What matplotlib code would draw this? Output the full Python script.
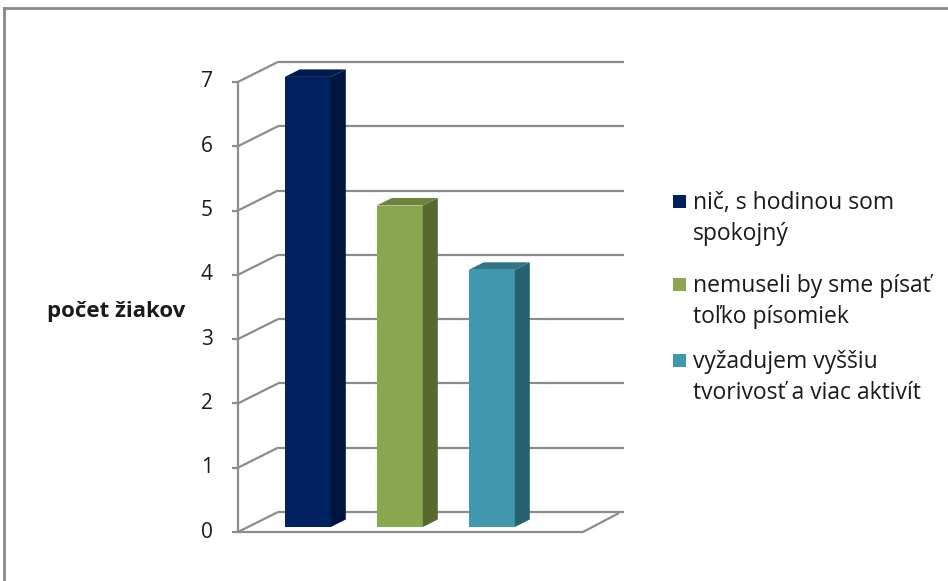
import matplotlib
matplotlib.use("Agg")
import matplotlib.pyplot as plt
from matplotlib.patches import Polygon, Rectangle
from matplotlib.lines import Line2D

plt.rcParams['font.family'] = ['Open Sans', 'DejaVu Sans']

# Data
series = ["nič, s hodinou som\nspokojný",
          "nemuseli by sme písať\ntoľko písomiek",
          "vyžadujem vyššiu\ntvorivosť a viac aktivít"]
values = [7, 5, 4]
y_ticks = [0, 1, 2, 3, 4, 5, 6, 7]
y_label = "počet žiakov"

front_colors = ["#002060", "#8aa64e", "#4297b0"]
side_colors = ["#00143c", "#58692f", "#27606f"]
top_colors = ["#001a4e", "#6c843c", "#2f7487"]

W, H = 948, 581
fig = plt.figure(figsize=(W / 100, H / 100), dpi=100)
ax = fig.add_axes([0, 0, 1, 1])

# scale: one category = 92 px, one unit of value = 64.3 px
PX_X, PX_Y = 92.0, 64.3
X0_PX, Y0_PX = 238.0, 532.0
X_LEFT = -0.65
ax.set_xlim(X_LEFT - X0_PX / PX_X, X_LEFT + (W - X0_PX) / PX_X)
ax.set_ylim(-(H - Y0_PX) / PX_Y, Y0_PX / PX_Y)
ax.axis("off")

# depth of the 3-D box (back wall offset)
DX, DY = 40 / PX_X, 20 / PX_Y
X_RIGHT_FRONT = X_LEFT + 345 / PX_X
X_RIGHT_BACK = X_LEFT + 386 / PX_X

grid_kw = dict(color="#8c8c8c", lw=1.6, solid_capstyle="butt", zorder=1)
ymax = max(y_ticks)

# back wall gridlines and the side-wall diagonals
for v in y_ticks:
    ax.add_line(Line2D([X_LEFT + DX, X_RIGHT_BACK], [v + DY, v + DY], **grid_kw))
    ax.add_line(Line2D([X_LEFT, X_LEFT + DX], [v, v + DY], **grid_kw))
    # tick marks
    ax.add_line(Line2D([X_LEFT - 6 / PX_X, X_LEFT], [v, v], **grid_kw))
    ax.text(X_LEFT - 31 / PX_X, v, str(v), ha="center", va="center",
            fontsize=15, color="#1a1a1a")

# front vertical axis
ax.add_line(Line2D([X_LEFT, X_LEFT], [0, ymax], **grid_kw))
# floor front edge and right edge
ax.add_line(Line2D([X_LEFT, X_RIGHT_FRONT], [0, 0], **grid_kw))
ax.add_line(Line2D([X_RIGHT_FRONT, X_RIGHT_FRONT + DX * 0.9], [0, DY * 0.95], **grid_kw))

# bars at partial depth
F0, F1 = 0.25, 0.625
bw = 0.5
for i, (v, fc, sc, tc) in enumerate(zip(values, front_colors, side_colors, top_colors)):
    xf = i - bw / 2 + F0 * DX
    yb = F0 * DY
    ddx, ddy = (F1 - F0) * DX, (F1 - F0) * DY
    ax.bar(xf, v, width=bw, bottom=yb, align="edge", color=fc,
           edgecolor="none", zorder=3)
    side = Polygon([(xf + bw, yb), (xf + bw + ddx, yb + ddy),
                    (xf + bw + ddx, yb + v + ddy), (xf + bw, yb + v)],
                   closed=True, facecolor=sc, edgecolor="none", zorder=3)
    top = Polygon([(xf, yb + v), (xf + bw, yb + v),
                   (xf + bw + ddx, yb + v + ddy), (xf + ddx, yb + v + ddy)],
                  closed=True, facecolor=tc, edgecolor="none", zorder=3)
    ax.add_patch(side)
    ax.add_patch(top)

# axis title
fig.text(116 / W, 1 - 312 / H, y_label, ha="center", va="center",
         fontsize=16, fontweight="bold", color="#1a1a1a")

# legend (first-line baselines in px from top)
leg_base = [209, 292, 368]
line_gap = 31
for lab, c, yb_px in zip(series, front_colors, leg_base):
    fig.patches.append(Rectangle((673 / W, 1 - (yb_px - 1) / H), 13 / W, 13 / H,
                                 transform=fig.transFigure, facecolor=c,
                                 edgecolor="none"))
    for j, line in enumerate(lab.split("\n")):
        fig.text(693 / W, 1 - (yb_px + j * line_gap) / H, line, ha="left",
                 va="baseline", fontsize=16.5, color="#1a1a1a")

# chart border (top and left edges)
fig.lines.append(Line2D([4 / W, 1], [1 - 8 / H, 1 - 8 / H], transform=fig.transFigure,
                        color="#8a8a8a", lw=2))
fig.lines.append(Line2D([4 / W, 4 / W], [0, 1 - 8 / H], transform=fig.transFigure,
                        color="#8a8a8a", lw=2))

fig.savefig("out.png", dpi=100)
